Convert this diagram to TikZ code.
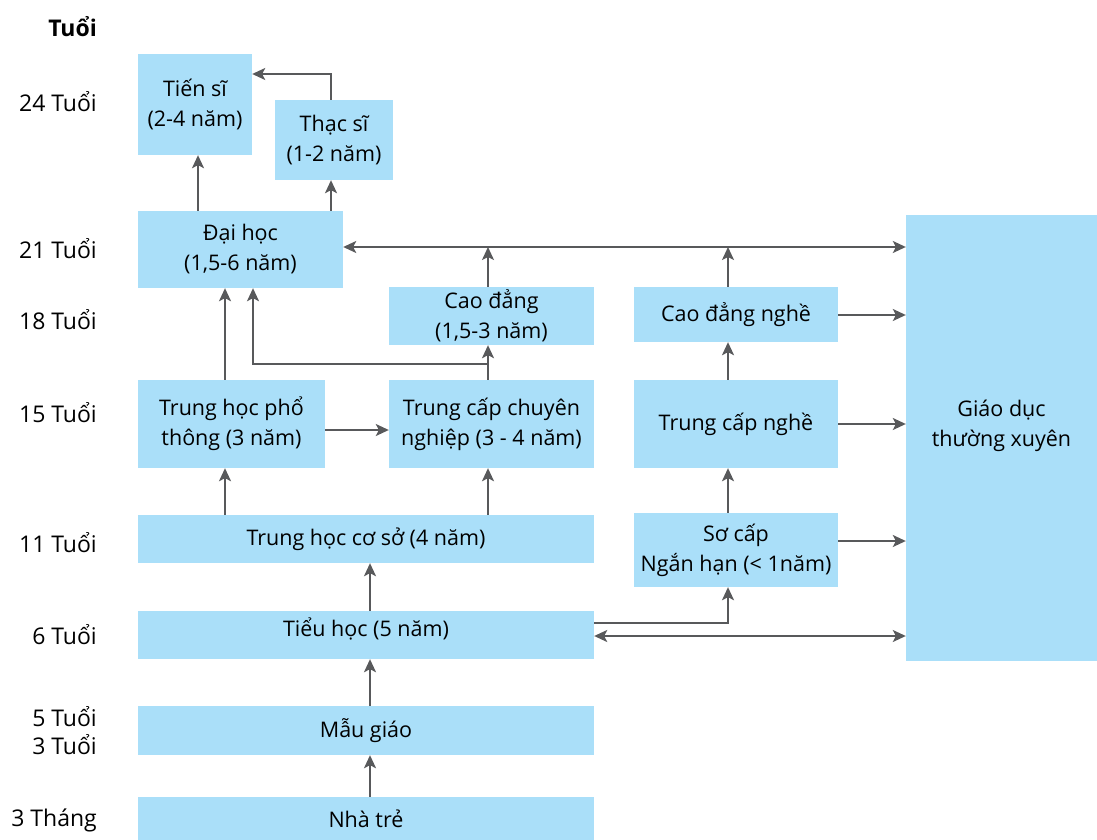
\documentclass[tikz,border=0pt]{standalone}
\usepackage{fontspec}
\setmainfont{Open Sans}
\usepackage{xcolor}
\usepackage{tikz}
\usetikzlibrary{arrows.meta,positioning,calc}

\definecolor{boxblue}{RGB}{170,223,249}
\definecolor{arrowgray}{RGB}{88,89,91}

\begin{document}
\begin{tikzpicture}[
    x=1pt, y=-1pt,
    box/.style={rectangle, fill=boxblue, align=center, inner sep=0pt, font=\fontsize{21.5}{30}\selectfont},
    age/.style={anchor=east, inner sep=0pt, font=\fontsize{23}{26}\selectfont},
    arrow/.style={-{Stealth[length=13pt,width=12pt,inset=3pt]}, line width=1.6pt, color=arrowgray},
    dblarrow/.style={{Stealth[length=13pt,width=12pt,inset=3pt]}-{Stealth[length=13pt,width=12pt,inset=3pt]}, line width=1.6pt, color=arrowgray}
]
\useasboundingbox (0,0) rectangle (1097,840);

% Nodes
\node[box, minimum width=114pt, minimum height=101pt] (tiensi) at (195,104.5) {Tiến sĩ\\(2-4 năm)};
\node[box, minimum width=118pt, minimum height=80pt] (thacsi) at (334,140) {Thạc sĩ\\(1-2 năm)};
\node[box, minimum width=205pt, minimum height=77pt] (daihoc) at (240.5,249.5) {Đại học\\(1,5-6 năm)};
\node[box, minimum width=205pt, minimum height=58pt] (caodang) at (491.5,316) {Cao đẳng\\(1,5-3 năm)};
\node[box, minimum width=204pt, minimum height=55pt] (cdnghe) at (736,314.5) {Cao đẳng nghề};
\node[box, minimum width=187pt, minimum height=88pt] (thpt) at (231.5,424) {Trung học phổ\\thông (3 năm)};
\node[box, minimum width=205pt, minimum height=88pt] (tccn) at (491.5,424) {Trung cấp chuyên\\nghiệp (3 - 4 năm)};
\node[box, minimum width=204pt, minimum height=88pt] (tcnghe) at (736,424) {Trung cấp nghề};
\node[box, minimum width=191pt, minimum height=446pt, text depth=29pt] (gdtx) at (1001.5,438) {Giáo dục\\thường xuyên};
\node[box, minimum width=456pt, minimum height=48pt] (thcs) at (366,539) {Trung học cơ sở (4 năm)};
\node[box, minimum width=204pt, minimum height=74pt] (socap) at (736,550) {Sơ cấp\\Ngắn hạn (< 1năm)};
\node[box, minimum width=456pt, minimum height=48pt, text depth=16pt] (tieuhoc) at (366,635) {Tiểu học (5 năm)};
\node[box, minimum width=456pt, minimum height=49pt] (maugiao) at (366,730.5) {Mẫu giáo};
\node[box, minimum width=456pt, minimum height=43pt] (nhatre) at (366,818.5) {Nhà trẻ};

% Ages
\node[age, font=\fontsize{23}{26}\selectfont\bfseries] (tuoi) at (97,27) {Tuổi};
\node[age] (a24) at (97,102) {24 Tuổi};
\node[age] (a21) at (97,249) {21 Tuổi};
\node[age] (a18) at (97,320) {18 Tuổi};
\node[age] (a15) at (97,413) {15 Tuổi};
\node[age] (a11) at (97,543) {11 Tuổi};
\node[age] (a6) at (97,635) {6 Tuổi};
\node[age] (a5) at (97,717) {5 Tuổi};
\node[age] (a3) at (97,745) {3 Tuổi};
\node[age] (a0) at (97,820) {3 Tháng};

% Edges
\coordinate (branch) at (488,364);
\draw[arrow] (nhatre.north -| 370,0) -- (maugiao.south -| 370,0);
\draw[arrow] (maugiao.north -| 370,0) -- (tieuhoc.south -| 370,0);
\draw[arrow] (tieuhoc.north -| 370,0) -- (thcs.south -| 370,0);
\draw[arrow] (thcs.north -| 225,0) -- (thpt.south -| 225,0);
\draw[arrow] (thcs.north -| 488,0) -- (tccn.south -| 488,0);
\draw[arrow] (thpt.east |- 0,430) -- (tccn.west |- 0,430);
\draw[arrow] (thpt.north -| 225,0) -- (daihoc.south -| 225,0);
\draw[arrow] (tccn.north -| 488,0) -- (caodang.south -| 488,0);
\draw[arrow] (branch) -- (branch -| 253,0) -- (daihoc.south -| 253,0);
\draw[arrow] (daihoc.north -| 198,0) -- (tiensi.south -| 198,0);
\draw[arrow] (daihoc.north -| 331,0) -- (thacsi.south -| 331,0);
\draw[arrow] (thacsi.north -| 331,0) -- (331,74) -- (tiensi.east |- 0,74);
\draw[dblarrow] (daihoc.east |- 0,247) -- (gdtx.west |- 0,247);
\draw[arrow] (caodang.north -| 488,0) -- (488,247);
\draw[arrow] (cdnghe.north -| 728,0) -- (728,247);
\draw[arrow] (tieuhoc.east |- 0,623) -- (728,623) -- (socap.south -| 728,0);
\draw[dblarrow] (tieuhoc.east |- 0,636) -- (gdtx.west |- 0,636);
\draw[arrow] (socap.north -| 728,0) -- (tcnghe.south -| 728,0);
\draw[arrow] (tcnghe.north -| 728,0) -- (cdnghe.south -| 728,0);
\draw[arrow] (cdnghe.east |- 0,315) -- (gdtx.west |- 0,315);
\draw[arrow] (tcnghe.east |- 0,424) -- (gdtx.west |- 0,424);
\draw[arrow] (socap.east |- 0,541) -- (gdtx.west |- 0,541);

\end{tikzpicture}
\end{document}
